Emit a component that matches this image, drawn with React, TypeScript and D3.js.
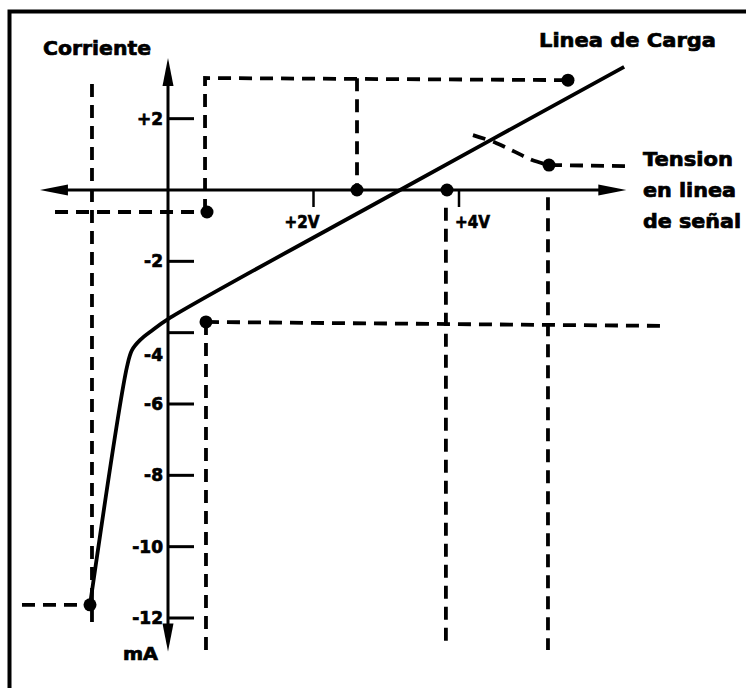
import React from "react";
import * as d3 from "d3";

// ---- data (volts, mA) ----
const xTickValues = [2, 4];
const xTickLabels = ["+2V", "+4V"];
const yTickValues = [2, -2, -4, -6, -8, -10, -12];
const yTickLabels = ["+2", "-2", "-4", "-6", "-8", "-10", "-12"];

// characteristic + load line (V, mA)
const curveV = [-1.072, -0.564, -0.495, -0.385, -0.206, 0, 3.19, 6.27];
const curveI = [-11.63, -4.96, -4.49, -4.21, -3.92, -3.62, 0, 3.45];

// marked points
const dotV = [0.536, 5.498, 2.598, 3.835, 5.237, 0.522, -1.072];
const dotI = [-0.617, 3.08, 0, 0, 0.7, -3.7, -11.63];

// dashed guide lines, each a polyline [V, mA]
const guideA: [number, number][] = [[-1.045, 2.97], [-1.045, -12.2]];
const guideB: [number, number][] = [[-1.553, -0.617], [0.536, -0.617]];
const guideC: [number, number][] = [[0.509, -0.617], [0.509, 3.14], [5.498, 3.08]];
const guideD: [number, number][] = [[2.598, 3.13], [2.598, 0]];
const guideE: [number, number][] = [[3.82, -0.5], [3.82, -12.84]];
const guideF: [number, number][] = [[0.522, -3.7], [6.8, -3.81]];
const guideG: [number, number][] = [[0.522, -3.7], [0.522, -12.9]];
const guideH: [number, number][] = [[5.223, -0.2], [5.223, -12.9]];
const guideJ: [number, number][] = [[-2.007, -11.63], [-1.072, -11.63]];
const guides = [guideA, guideB, guideC, guideD, guideE, guideF, guideG, guideH, guideJ];

// signal-line voltage curve (dashed)
const tensionV = [4.192, 4.509, 4.77, 5.004, 5.237];
const tensionI = [1.54, 1.32, 1.07, 0.84, 0.7];
const tensionTailV = [5.237, 6.296];
const tensionTailI = [0.7, 0.67];

// axis extents
const xAxisExtent = [-1.76, 6.3];
const yAxisExtent = [3.7, -12.94];

const FONT = "'DejaVu Sans', Verdana, sans-serif";

export default function App() {
  const W = 746;
  const H = 688;
  const x = d3.scaleLinear().domain([0, 4]).range([168, 459]);
  const y = d3.scaleLinear().domain([0, -12]).range([190, 618]);

  const line = d3
    .line<[number, number]>()
    .x((d) => x(d[0]))
    .y((d) => y(d[1]));
  const smooth = d3
    .line<[number, number]>()
    .x((d) => x(d[0]))
    .y((d) => y(d[1]))
    .curve(d3.curveCatmullRom.alpha(0.5));

  const curvePts = curveV.map((v, i) => [v, curveI[i]] as [number, number]);
  const tensionPts = tensionV.map((v, i) => [v, tensionI[i]] as [number, number]);
  const tailPts = tensionTailV.map((v, i) => [v, tensionTailI[i]] as [number, number]);

  const x0 = x(xAxisExtent[0]);
  const x1 = x(xAxisExtent[1]);
  const y0 = y(0);
  const yTop = y(yAxisExtent[0]);
  const yBot = y(yAxisExtent[1]);
  const ax = x(0);
  const ah = 28;
  const aw = 5.5;

  const dash = "13,8";
  const textStyle = { stroke: "#000", strokeWidth: 0.7 } as React.CSSProperties;

  return (
    <svg
      width={W}
      height={H}
      viewBox={`0 0 ${W} ${H}`}
      style={{ position: "absolute", left: 0, top: 0, background: "#fff" }}
    >
      <rect x={0} y={0} width={W} height={H} fill="#fff" />
      {/* frame */}
      <rect x={9.5} y={11.5} width={900} height={900} fill="none" stroke="#000" strokeWidth={4} />

      {/* dashed guides */}
      {guides.map((g, i) => (
        <path key={i} d={line(g) || ""} fill="none" stroke="#000" strokeWidth={3.8} strokeDasharray={dash} />
      ))}
      <path d={smooth(tensionPts) || ""} fill="none" stroke="#000" strokeWidth={3.8} strokeDasharray={dash} />
      <path d={line(tailPts) || ""} fill="none" stroke="#000" strokeWidth={3.8} strokeDasharray={dash} />

      {/* x axis */}
      <line x1={x0 + 10} y1={y0} x2={x1 - 10} y2={y0} stroke="#000" strokeWidth={3} />
      <path d={`M${x0},${y0} L${x0 + ah},${y0 - aw} L${x0 + ah},${y0 + aw} Z`} fill="#000" />
      <path d={`M${x1},${y0} L${x1 - ah},${y0 - aw} L${x1 - ah},${y0 + aw} Z`} fill="#000" />
      {/* y axis */}
      <line x1={ax} y1={yTop + 10} x2={ax} y2={yBot - 10} stroke="#000" strokeWidth={3} />
      <path d={`M${ax},${yTop} L${ax - aw},${yTop + ah} L${ax + aw},${yTop + ah} Z`} fill="#000" />
      <path d={`M${ax},${yBot} L${ax - aw},${yBot - ah} L${ax + aw},${yBot - ah} Z`} fill="#000" />

      {/* x ticks */}
      {xTickValues.map((v, i) => (
        <g key={v}>
          <line x1={x(v)} y1={y0} x2={x(v)} y2={y0 + 17} stroke="#000" strokeWidth={2.5} />
          <text
            x={x(v) - 29 + i * 25}
            y={y0 + 38}
            fontFamily={FONT}
            fontWeight="bold"
            fontSize={17}
            textLength={35}
            lengthAdjust="spacingAndGlyphs"
            style={textStyle}
          >
            {xTickLabels[i]}
          </text>
        </g>
      ))}

      {/* y ticks */}
      {yTickValues.map((v, i) => (
        <g key={v}>
          <line x1={ax} y1={y(v)} x2={ax + 26} y2={y(v)} stroke="#000" strokeWidth={3} />
          <text
            x={ax - 5}
            y={y(v) + (v === -4 ? 22 : 0)}
            dy="0.36em"
            textAnchor="end"
            fontFamily={FONT}
            fontWeight="bold"
            fontSize={17}
            style={textStyle}
          >
            {yTickLabels[i]}
          </text>
        </g>
      ))}

      {/* characteristic curve and load line */}
      <path d={smooth(curvePts) || ""} fill="none" stroke="#000" strokeWidth={3.8} strokeLinejoin="round" />

      {/* dots */}
      {dotV.map((v, i) => (
        <circle key={i} cx={x(v)} cy={y(dotI[i])} r={6.5} fill="#000" />
      ))}

      {/* labels */}
      <text x={43} y={55} fontFamily={FONT} fontWeight="bold" fontSize={20} textLength={108} lengthAdjust="spacingAndGlyphs" style={textStyle}>
        Corriente
      </text>
      <text x={539} y={47} fontFamily={FONT} fontWeight="bold" fontSize={20} textLength={177} lengthAdjust="spacingAndGlyphs" style={textStyle}>
        Linea de Carga
      </text>
      <text x={643} y={166} fontFamily={FONT} fontWeight="bold" fontSize={19} textLength={90} lengthAdjust="spacingAndGlyphs" style={textStyle}>
        Tension
      </text>
      <text x={643} y={197} fontFamily={FONT} fontWeight="bold" fontSize={19} textLength={93} lengthAdjust="spacingAndGlyphs" style={textStyle}>
        en linea
      </text>
      <text x={643} y={228} fontFamily={FONT} fontWeight="bold" fontSize={19} textLength={98} lengthAdjust="spacingAndGlyphs" style={textStyle}>
        de señal
      </text>
      <text x={123} y={660} fontFamily={FONT} fontWeight="bold" fontSize={17} textLength={35} lengthAdjust="spacingAndGlyphs" style={textStyle}>
        mA
      </text>
    </svg>
  );
}
